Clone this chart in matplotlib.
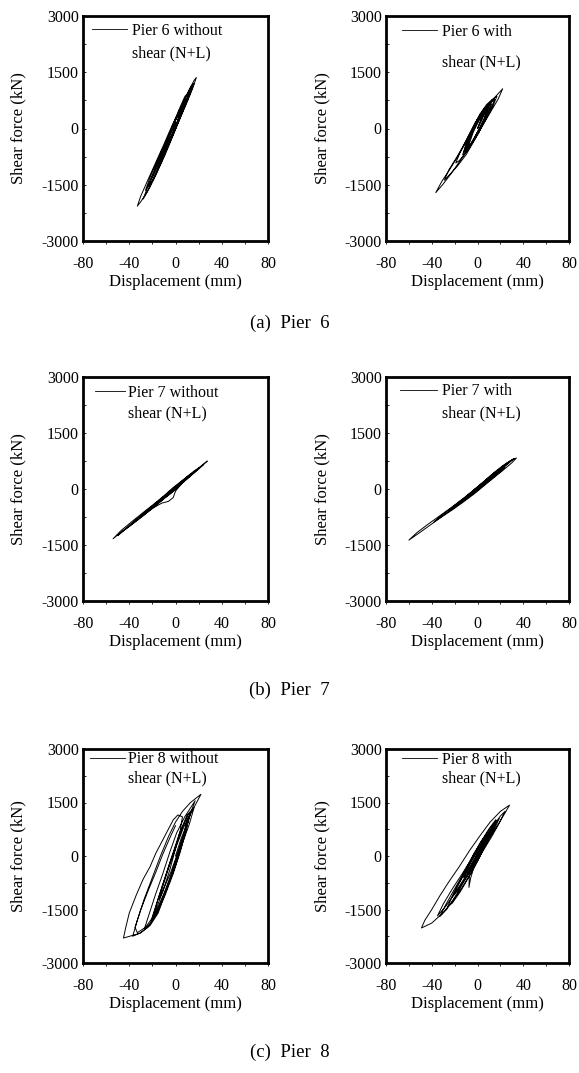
import numpy as np
import matplotlib
matplotlib.use('Agg')
import matplotlib.pyplot as plt
from matplotlib.ticker import MultipleLocator

plt.rcParams['font.family'] = ['Liberation Serif', 'DejaVu Serif']
plt.rcParams['axes.unicode_minus'] = False

# hand-read hysteresis paths (displacement mm, shear kN)
p6_wo_d = [0, 4, 8, 6, 2, -3, -8, -10, -7, -2, 3, 8, 12, 10, 6, 0, -6, -12, -18, -15,
           -10, -4, 2, 8, 13, 15, 12, 6, 0, -7, -14, -20, -26, -22, -16, -9, -2, 5, 11, 16,
           18, 15, 10, 3, -4, -11, -18, -25, -30, -33, -30, -24, -17, -10, -3, 4, 10, 14, 11, 5,
           -2, -9, -16, -22, -28, -24, -17, -10, -3, 2, 7, 12, 16, 13, 8, 2, -5, -12, -19, -24,
           -20, -13, -6, 1, 6, 9, 6, 0, -6, -12, -15, -11, -5, 0]
p6_wo_f = [0, 480, 800, 560, 200, -150, -480, -600, -300, 120, 500, 850, 980, 780, 480, 40, -380, -760, -1080, -820,
           -480, -70, 370, 780, 1100, 1180, 900, 460, 20, -450, -920, -1300, -1650, -1300, -870, -400, 90, 560, 980, 1280,
           1360, 1080, 700, 200, -300, -780, -1250, -1720, -1950, -2070, -1800, -1380, -900, -420, 80, 520, 900, 1100, 830, 370,
           -180, -700, -1180, -1560, -1880, -1560, -1060, -560, -60, 200, 580, 950, 1200, 960, 580, 130, -380, -880, -1350, -1560,
           -1240, -740, -250, 280, 620, 800, 520, 60, -380, -820, -940, -620, -160, 150]

p6_w_d = [0, 5, 9, 6, 1, -5, -9, -6, -1, 4, 10, 12, 9, 4, -2, -8, -12, -9, -4, 2,
          8, 13, 10, 4, -3, -10, -16, -19, -15, -8, 0, 7, 14, 17, 13, 6, -2, -10, -18, -25,
          -29, -25, -18, -10, -2, 6, 13, 19, 22, 18, 11, 3, -6, -15, -23, -30, -36.5, -31, -24, -16,
          -8, 0, 7, 12, 15, 11, 5, -1, -7, -11, -7, -2, 3, 7, 4, 0, 4, 8, 5, 0,
          -6, -10, -7, -2, 3, 7, 11, 8, 2, -4, -10, -13, -10, -5, 1, 6, 9, 6, 1, -5,
          -8, -4, 1]
p6_w_f = [0, 380, 520, 200, -120, -400, -520, -180, 180, 420, 620, 640, 340, 60, -260, -560, -640, -330, 20, 380,
          640, 780, 480, 120, -300, -640, -860, -920, -620, -200, 250, 560, 800, 860, 560, 180, -280, -700, -1020, -1250,
          -1380, -1100, -760, -330, 160, 500, 760, 960, 1060, 780, 420, 0, -450, -850, -1200, -1480, -1710, -1400, -1080, -680,
          -260, 150, 470, 700, 780, 480, 200, -150, -480, -620, -300, 80, 330, 480, 230, 0, 300, 460, 180, -100,
          -420, -560, -240, 120, 380, 560, 700, 380, 20, -330, -640, -700, -420, -60, 300, 540, 560, 260, -60, -380,
          -480, -120, 200]

p7_wo_d = [0, 6, 12, 9, 3, -4, -12, -18, -14, -7, 0, 8, 16, 20, 16, 9, 1, -8, -17, -26,
           -30, -25, -17, -8, 1, 10, 19, 27.5, 23, 14, 5, 0, -2, -6, -12, -20, -30, -40, -48, -54,
           -47, -38, -28, -19, -10, -2, 6, 13, 10, 3, -5, -13, -22, -26, -20, -12, -4, 2, 10, 18,
           24, 20, 12, 4, -4, -14, -24, -34, -40, -35, -26, -16, -7, 2, 11, 17, 13, 6, -2, -11,
           -20, -28, -44, -50, -44, -34, -22, -11, -1]
p7_wo_f = [0, 210, 370, 260, 60, -120, -300, -420, -320, -130, 60, 280, 480, 560, 430, 240, 20, -200, -430, -650,
           -740, -580, -380, -150, 90, 320, 540, 750, 620, 390, 140, -60, -230, -330, -380, -520, -760, -1000, -1180, -1333,
           -1110, -880, -630, -410, -180, 40, 230, 400, 300, 110, -110, -330, -540, -620, -460, -250, -40, 90, 300, 500,
           650, 530, 330, 120, -100, -350, -590, -840, -990, -850, -620, -370, -140, 80, 310, 470, 360, 170, -50, -290,
           -520, -720, -1100, -1250, -1080, -820, -520, -250, 10]

p7_w_d = [0, 7, 14, 11, 4, -4, -12, -16, -11, -4, 4, 12, 20, 24, 19, 11, 3, -6, -15, -24,
          -20, -12, -3, 6, 15, 24, 30, 34, 30, 23, 15, 7, -2, -12, -22, -32, -42, -52, -60, -53,
          -44, -34, -24, -14, -5, 4, 13, 22, 31, 27, 20, 12, 4, -5, -14, -22, -17, -9, -1, 5,
          12, 18, 26, 32, 28, 21, 14, 6, -3, -13, -23, -33, -38, -32, -22, -12, -3, 6, 16, 22,
          18, 10, 2, -7, -16, -20, -14, -6, 1]
p7_w_f = [0, 200, 360, 280, 100, -90, -270, -340, -230, -50, 150, 360, 520, 580, 440, 240, 40, -180, -380, -560,
          -440, -260, -20, 210, 450, 660, 780, 830, 700, 520, 320, 120, -110, -340, -560, -760, -980, -1200, -1370, -1170,
          -960, -740, -520, -290, -70, 160, 400, 620, 800, 680, 500, 290, 80, -140, -350, -530, -390, -190, 20, 150,
          350, 480, 700, 810, 720, 560, 360, 140, -80, -320, -550, -780, -880, -720, -490, -260, -30, 200, 440, 590,
          470, 260, 50, -170, -380, -460, -310, -110, 60]

p8_wo_d = [0, 5, 10, 7, 2, -4, -10, -14, -10, -5, 1, 7, 13, 16, 12, 6, 0, -7, -14, -20,
           -15, -9, -3, 3, 10, 13, 9, 4, -2, -9, -16, -24, -30, -37, -33, -27, -20, -13, -6, 0,
           6, 13, 22, 15, 10, 6, 3, -2, -5, -10, -15, -22, -31, -45, -43, -40, -34, -28, -22, -17,
           -11, -7, -2, 2, 6, 4, 0, -5, -11, -17, -21, -16, -10, -4, 1, 6, 11, 14, 10, 5,
           -1, -8, -15, -22, -27, -23, -17, -11, -5, 1, 8, 17, 13, 8, 3, -3, -10, -18, -26, -33,
           -35, -30, -24, -17, -11, -5, 0]
p8_wo_f = [0, 500, 900, 600, 100, -450, -900, -1200, -750, -250, 300, 800, 1200, 1350, 900, 350, -250, -850, -1400, -1750,
           -1200, -600, 0, 600, 1150, 1250, 700, 100, -500, -1100, -1600, -2000, -2150, -2250, -1800, -1200, -600, 0, 550, 950,
           1250, 1500, 1730, 1300, 1000, 450, 50, -450, -700, -1150, -1600, -1950, -2170, -2300, -2000, -1600, -1100, -650, -300, 80,
           450, 700, 1010, 1150, 1100, 700, 200, -400, -1000, -1500, -1800, -1300, -700, -100, 350, 800, 1150, 1300, 850, 300,
           -300, -950, -1500, -1900, -2050, -1650, -1050, -500, 100, 650, 1100, 1550, 1200, 700, 150, -450, -1050, -1650, -2000, -2150,
           -2000, -1500, -1000, -450, 50, 500, 850]

p8_w_d = [0, 5, 10, 7, 2, -4, -9, -6, -1, 4, 9, 13, 10, 5, -1, -7, -7.5, -6, -3, 2,
          8, 15, 19, 15, 9, 2, -5, -12, -18, -22, -17, -10, -3, 5, 12, 20, 24, 19, 12, 4,
          -4, -13, -22, -31, -40, -49, -46, -40, -33, -25, -16, -7, 2, 11, 20, 28, 23, 16, 8, 0,
          -8, -17, -27, -35, -30, -22, -13, -5, 3, 9, 14, 10, 4, -2, -8, -12, -8, -2, 3, 8,
          13, 17, 13, 7, 0, -7, -15, -22, -26, -21, -14, -6, 2, 10, 16, 12, 6, -1, -9, -18,
          -27, -33, -28, -20, -11, -3, 4, 7]
p8_w_f = [0, 350, 600, 420, 100, -220, -450, -300, 40, 340, 620, 800, 560, 250, -120, -450, -880, -620, -300, 150,
          520, 850, 1050, 780, 420, 20, -380, -700, -1000, -1150, -820, -420, 0, 420, 760, 1120, 1250, 920, 520, 100,
          -380, -860, -1280, -1620, -1880, -2018, -1800, -1500, -1120, -720, -300, 150, 560, 950, 1250, 1426, 1150, 780, 380, -20,
          -450, -900, -1380, -1680, -1350, -920, -480, -60, 380, 680, 900, 620, 280, -60, -380, -600, -320, 50, 260, 560,
          840, 1000, 700, 300, -150, -560, -1000, -1320, -1420, -1050, -620, -150, 350, 760, 1020, 720, 350, -80, -560, -1060,
          -1500, -1700, -1380, -920, -420, 80, 440, 560]

panels = [
    (p6_wo_d, p6_wo_f, 'Pier 6 without', 'shear (N+L)'),
    (p6_w_d, p6_w_f, 'Pier 6 with', 'shear (N+L)'),
    (p7_wo_d, p7_wo_f, 'Pier 7 without', 'shear (N+L)'),
    (p7_w_d, p7_w_f, 'Pier 7 with', 'shear (N+L)'),
    (p8_wo_d, p8_wo_f, 'Pier 8 without', 'shear (N+L)'),
    (p8_w_d, p8_w_f, 'Pier 8 with', 'shear (N+L)'),
]
captions = ['(a)  Pier  6', '(b)  Pier  7', '(c)  Pier  8']

W, H = 579, 1073
fig = plt.figure(figsize=(W / 100, H / 100), dpi=100)

col_x = [(83, 185), (386, 183)]
row_y = [(16, 225), (377, 224), (749, 214)]
# legend layout per panel: handle start, handle length(px), text x, line1 y, line2 y (axes frac)
leg_pos = [
    (0.049, 35, 0.265, 0.933, 0.836),
    (0.086, 35, 0.304, 0.929, 0.796),
    (0.065, 30, 0.243, 0.929, 0.836),
    (0.077, 37, 0.306, 0.936, 0.836),
    (0.038, 35, 0.243, 0.952, 0.862),
    (0.086, 35, 0.304, 0.950, 0.862),
]
caption_y = [323, 690, 1052]
tick_fs = 11.5
lab_fs = 12
leg_fs = 11.5

for i, (d, f, l1, l2) in enumerate(panels):
    r, c = divmod(i, 2)
    x0, w = col_x[c]
    y0, h = row_y[r]
    ax = fig.add_axes([x0 / W, 1 - (y0 + h) / H, w / W, h / H])
    ax.plot(d, f, color='black', lw=0.7)
    ax.set_xlim(-80, 80)
    ax.set_ylim(-3000, 3000)
    ax.xaxis.set_major_locator(MultipleLocator(40))
    ax.xaxis.set_minor_locator(MultipleLocator(20))
    ax.yaxis.set_major_locator(MultipleLocator(1500))
    ax.yaxis.set_minor_locator(MultipleLocator(750))
    ax.tick_params(axis='x', which='both', direction='out', length=2.5, width=0.6,
                   labelsize=tick_fs, pad=8)
    ax.tick_params(axis='y', which='both', direction='in', length=2.5, width=0.6,
                   labelsize=tick_fs, pad=3)
    for s in ax.spines.values():
        s.set_linewidth(2.0)
    ax.set_xlabel('Displacement (mm)', fontsize=lab_fs)
    ax.set_ylabel('Shear force (kN)', fontsize=lab_fs)
    ax.xaxis.set_label_coords(0.5, -41 / h)
    ax.xaxis.label.set_va('center')
    ax.yaxis.set_label_coords(-0.35, 0.5)
    ax.yaxis.label.set_va('center')

    hx, hl, tx, ly1, ly2 = leg_pos[i]
    fs_px = leg_fs * 100 / 72
    leg = ax.legend([l1], loc='center left', bbox_to_anchor=(hx, ly1), frameon=False,
                    fontsize=leg_fs, borderpad=0, borderaxespad=0,
                    handlelength=hl / fs_px, handletextpad=(tx - hx) * w / fs_px - hl / fs_px)
    leg.get_lines()[0].set_linewidth(0.6)
    ax.text(tx, ly2, l2, transform=ax.transAxes, fontsize=leg_fs, va='center', ha='left')

for r, cap in enumerate(captions):
    fig.text(0.5, 1 - caption_y[r] / H, cap, ha='center', va='center', fontsize=13.5)

fig.savefig('out.png', dpi=100)
